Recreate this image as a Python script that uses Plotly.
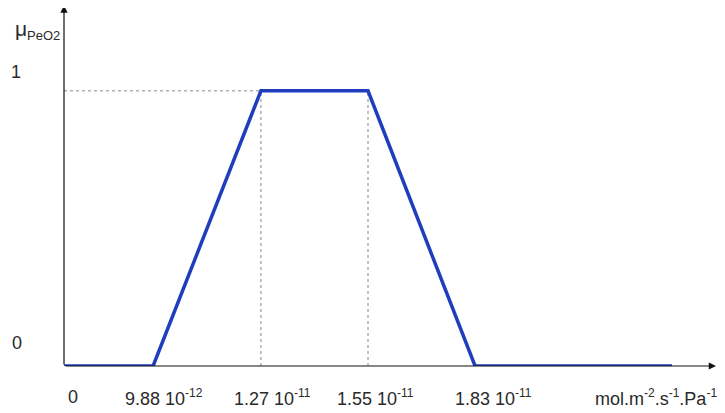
import plotly.graph_objects as go

# Data (x in units of 1e-12 mol.m-2.s-1.Pa-1)
breakpoints = [9.88, 12.7, 15.5, 18.3]
membership = [0, 1, 1, 0]
tick_labels = ["9.88 10<sup>-12</sup>", "1.27 10<sup>-11</sup>", "1.55 10<sup>-11</sup>", "1.83 10<sup>-11</sup>"]
x_origin = 7.55   # axis origin (labelled "0", axis is broken)
x_tail = 23.45    # end of the drawn function
x_axis_end = 24.6
y_axis_end = 1.31
unit_label = "mol.m<sup>-2</sup>.s<sup>-1</sup>.Pa<sup>-1</sup>"

label_shifts = [11, 12, 7, 18]

xs = [x_origin] + breakpoints + [x_tail]
ys = [0] + membership + [0]

fig = go.Figure()

# dotted guide lines
fig.add_trace(go.Scatter(x=[x_origin, breakpoints[1]], y=[1, 1], mode="lines",
                         line=dict(color="#888888", width=1, dash="dot"), hoverinfo="skip"))
for bx in breakpoints[1:3]:
    fig.add_trace(go.Scatter(x=[bx, bx], y=[0, 1], mode="lines",
                             line=dict(color="#888888", width=1, dash="dot"), hoverinfo="skip"))

fig.add_trace(go.Scatter(x=xs, y=ys, mode="lines",
                         line=dict(color="#1f3dbd", width=3.5), hoverinfo="skip"))

# axes arrows
fig.add_annotation(x=x_axis_end, y=0, ax=x_origin, ay=0, xref="x", yref="y", axref="x", ayref="y",
                   showarrow=True, arrowhead=2, arrowsize=1.2, arrowwidth=1.2, arrowcolor="#111111", text="")
fig.add_annotation(x=x_origin, y=y_axis_end, ax=x_origin, ay=0, xref="x", yref="y", axref="x", ayref="y",
                   showarrow=True, arrowhead=2, arrowsize=1.2, arrowwidth=1.2, arrowcolor="#111111", text="")

font = dict(family="Liberation Sans, Arial", size=18, color="#2a2a2a")

def small_sup(s):
    return s.replace("<sup>", "<sup><span style='font-size:12px'>").replace("</sup>", "</span></sup>")

for bx, lab, sh in zip(breakpoints, tick_labels, label_shifts):
    fig.add_annotation(x=bx, y=0, xref="x", yref="y", text=small_sup(lab), showarrow=False,
                       xshift=sh, yshift=-31, font=font)
fig.add_annotation(x=x_origin, y=0, xref="x", yref="y", text="0", showarrow=False,
                   xshift=9, yshift=-31, font=font)
fig.add_annotation(x=x_axis_end, y=0, xref="x", yref="y", text=small_sup(unit_label), showarrow=False,
                   xshift=-60, yshift=-31, font=font)

# y labels
fig.add_annotation(x=0, y=1, xref="paper", yref="y", text="1", showarrow=False,
                   xshift=-55, yshift=19, font=font)
fig.add_annotation(x=0, y=0, xref="paper", yref="y", text="0", showarrow=False,
                   xshift=-54, yshift=23, font=font)
fig.add_annotation(x=0, y=1.301, xref="paper", yref="y",
                   text="μ<sub><span style='font-size:13px'>PeO2</span></sub>", showarrow=False,
                   xshift=-51, yshift=-22, font=dict(family="Liberation Sans, Arial", size=21, color="#2a2a2a"))

fig.update_layout(
    width=725, height=413,
    margin=dict(l=56, r=13, t=0, b=55),
    paper_bgcolor="white", plot_bgcolor="white",
    showlegend=False,
    xaxis=dict(range=[x_origin, 24.705], visible=False, fixedrange=True),
    yaxis=dict(range=[0, 1.301], visible=False, fixedrange=True),
)

fig.write_html("out.html")
